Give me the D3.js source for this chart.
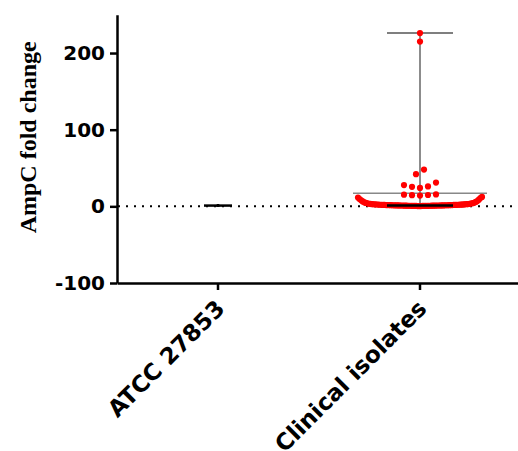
<!DOCTYPE html>
<html>
<head>
<meta charset="utf-8">
<script src="https://cdn.jsdelivr.net/npm/d3@7"></script>
<style>
  html, body { margin: 0; padding: 0; background: #fff; }
</style>
</head>
<body>
<div id="chart"></div>
<script>
// Data
let categories = ['ATCC 27853', 'Clinical isolates'];
let atccValues = [1, 1, 1];
let clinicalValues = [
	1.2, 0.8, 2.1, 0.5, 1.6, 3.4, 0.9, 1.1, 2.6, 0.7,
	1.4, 5.2, 0.6, 1.9, 2.3, 1.0, 0.4, 7.8, 1.3, 2.8,
	0.9, 1.7, 0.3, 1.5, 4.1, 2.0, 1.1, 0.8, 2.4, 1.2,
	9.6, 0.6, 1.8, 2.9, 1.0, 0.5, 1.4, 3.7, 2.2, 0.7,
	1.3, 6.4, 1.6, 0.9, 2.5, 1.1, 12.3, 0.8, 1.9, 2.7,
	0.4, 1.5, 4.6, 1.2, 2.0, 0.6, 1.7, 3.1, 1.0, 10.9,
	2.3, 0.7, 1.4, 5.8, 2.6, 1.3, 0.5, 8.7, 1.8, 2.1,
	0.9, 3.3, 1.6, 11.4, 2.8, 1.1, 4.4, 6.9, 1.2, 3.9,
	15.2, 14.6, 14.1, 14.8, 15.5,
	31, 26, 24, 25.5, 27.7,
	48, 42,
	215, 226
];
let medians = [1, 1];
let centerLines = [1, 17];
let yTicks = [-100, 0, 100, 200];

let width = 518;
let height = 451;

let svg = d3.select('#chart')
	.append('svg')
	.attr('width', width)
	.attr('height', height)
	.style('display', 'block');

let x = d3.scaleBand()
	.domain(categories)
	.range([117, 521])
	.padding(0);

let y = d3.scaleLinear()
	.domain([-100, 250])
	.range([283, 14.7]);

function cx(name){
	return x(name) + x.bandwidth() / 2;
}

// dotted line at zero
svg.append('line')
	.attr('x1', 118)
	.attr('x2', width)
	.attr('y1', y(0))
	.attr('y2', y(0))
	.attr('stroke', '#000')
	.attr('stroke-width', 2)
	.attr('stroke-dasharray', '2 6');

// Y axis
let yAxis = svg.append('g')
	.attr('transform', 'translate(117,0)')
	.call(d3.axisLeft(y).tickValues(yTicks).tickSize(7).tickSizeOuter(0).tickPadding(5)
		.tickFormat(function(d){ return String(d); }));
yAxis.select('.domain').attr('stroke-width', 2.5);
yAxis.selectAll('.tick line').attr('stroke-width', 2.5);
yAxis.selectAll('.tick text')
	.attr('font-family', 'DejaVu Sans')
	.attr('font-weight', 'bold')
	.attr('font-size', 20)
	.attr('fill', '#000');

// X axis
let xAxis = svg.append('g')
	.attr('transform', 'translate(0,283)')
	.call(d3.axisBottom(x).tickSize(7).tickSizeOuter(0).tickFormat(''));
xAxis.select('.domain').attr('stroke-width', 2.5);
xAxis.selectAll('.tick line').attr('stroke-width', 2.5);

svg.append('g').selectAll('text')
	.data(categories)
	.enter()
	.append('text')
	.text(function(d){ return d; })
	.attr('transform', function(d){
		return 'translate(' + (cx(d) + 8) + ',310) rotate(-45)';
	})
	.attr('text-anchor', 'end')
	.attr('font-family', 'DejaVu Sans')
	.attr('font-weight', 'bold')
	.attr('font-size', 23)
	.attr('fill', '#000');

// Y axis title
svg.append('text')
	.text('AmpC fold change')
	.attr('transform', 'translate(36,' + y(90) + ') rotate(-90)')
	.attr('text-anchor', 'middle')
	.attr('font-family', 'Liberation Serif')
	.attr('font-weight', 'bold')
	.attr('font-size', 24)
	.attr('fill', '#000');

// Scatter layout: bin values, spread each bin centred on the category
let binEdges = [13.5, 20, 35, 60, 220];
function layout(values, name){
	let bins = d3.bin().thresholds(binEdges).domain([-1000, 1000])(values);
	let pts = [];
	bins.forEach(function(b){
		let vals = b.slice().sort(d3.ascending);
		let n = vals.length;
		if(n === 0) return;
		let step = n > 1 ? Math.min(8, 124 / (n - 1)) : 0;
		// centre-out order, larger values pushed to the edges
		let slots = [];
		for(let i = 0; i < n; i++){
			slots.push((i - (n - 1) / 2) * step);
		}
		slots.sort(function(a, b){ return Math.abs(a) - Math.abs(b) || a - b; });
		vals.forEach(function(v, i){
			pts.push({ v: v, x: cx(name) + slots[i] });
		});
	});
	return pts;
}

// Clinical isolates range line and caps
let cName = categories[1];
let cMax = d3.max(clinicalValues);
let cMin = d3.min(clinicalValues);
let summary = svg.append('g');
summary.append('line')
	.attr('x1', cx(cName)).attr('x2', cx(cName))
	.attr('y1', y(cMax)).attr('y2', y(cMin))
	.attr('stroke', '#666').attr('stroke-width', 1.5);
summary.append('line')
	.attr('x1', cx(cName) - 33).attr('x2', cx(cName) + 33)
	.attr('y1', y(cMax)).attr('y2', y(cMax))
	.attr('stroke', '#555').attr('stroke-width', 1.5);
summary.append('line')
	.attr('x1', cx(cName) - 67).attr('x2', cx(cName) + 67)
	.attr('y1', y(centerLines[1])).attr('y2', y(centerLines[1]))
	.attr('stroke', '#888').attr('stroke-width', 1.5);

// points
let pointsG = svg.append('g');
pointsG.selectAll('circle.c')
	.data(layout(clinicalValues, cName))
	.enter()
	.append('circle')
	.attr('class', 'c')
	.attr('cx', function(d){ return d.x; })
	.attr('cy', function(d){ return y(d.v); })
	.attr('r', 3.1)
	.attr('fill', '#ff0000');

pointsG.selectAll('circle.a')
	.data(atccValues)
	.enter()
	.append('circle')
	.attr('class', 'a')
	.attr('cx', cx(categories[0]))
	.attr('cy', function(d){ return y(d); })
	.attr('r', 1.5)
	.attr('fill', '#000');

// median lines
let medHalf = [14, 33];
svg.append('g').selectAll('line')
	.data(categories)
	.enter()
	.append('line')
	.attr('x1', function(d, i){ return cx(d) - medHalf[i]; })
	.attr('x2', function(d, i){ return cx(d) + medHalf[i]; })
	.attr('y1', function(d, i){ return y(medians[i]); })
	.attr('y2', function(d, i){ return y(medians[i]); })
	.attr('stroke', '#000')
	.attr('stroke-width', 2.5);
</script>
</body>
</html>
